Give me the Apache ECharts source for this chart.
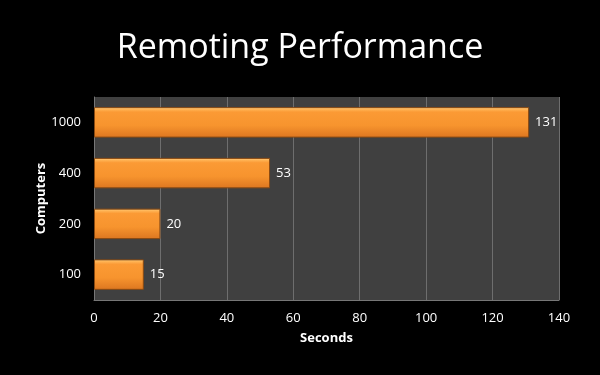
<!DOCTYPE html>
<html><head><meta charset="utf-8">
<script src="https://cdn.jsdelivr.net/npm/echarts@6/dist/echarts.min.js"></script>
<style>html,body{margin:0;padding:0;background:#000;}#c{width:600px;height:375px;}</style>
</head><body><div id="c"></div>
<script>
const categories = ['100', '200', '400', '1000'];
const seconds = [15, 20, 53, 131];
const xTicks = [0, 20, 40, 60, 80, 100, 120, 140];

const chart = echarts.init(document.getElementById('c'));
chart.setOption({
  backgroundColor: '#000',
  animation: false,
  title: {
    text: 'Remoting Performance', left: 'center', top: 26,
    textStyle: { color: '#fff', fontFamily: 'Open Sans', fontWeight: 'normal', fontSize: 34 }
  },
  grid: { left: 94, right: 41, top: 97, bottom: 75, show: true, backgroundColor: '#404040', borderWidth: 0 },
  xAxis: {
    type: 'value', min: xTicks[0], max: xTicks[xTicks.length - 1], interval: 20,
    name: 'Seconds', nameLocation: 'middle', nameGap: 32, nameMoveOverlap: false,
    nameTextStyle: { color: '#fff', fontWeight: 'bold', fontSize: 13, fontFamily: 'Open Sans' },
    axisLine: { show: true, lineStyle: { color: '#777' } },
    axisTick: { show: false },
    axisLabel: { color: '#fff', fontSize: 13, fontFamily: 'Open Sans', margin: 12 },
    splitLine: { show: true, lineStyle: { color: '#6e6e6e', width: 1 } }
  },
  yAxis: {
    type: 'category', data: categories,
    name: 'Computers', nameLocation: 'middle', nameGap: 46, nameRotate: 90, nameMoveOverlap: false,
    nameTextStyle: { color: '#fff', fontWeight: 'bold', fontSize: 13, fontFamily: 'Open Sans' },
    axisLine: { show: true, lineStyle: { color: '#777' } },
    axisTick: { show: false },
    axisLabel: { color: '#fff', fontSize: 13, fontFamily: 'Open Sans', margin: 13 },
    splitLine: { show: false }
  },
  series: [{
    type: 'bar', data: seconds, barWidth: '60%',
    itemStyle: {
      borderColor: '#8a4a12', borderWidth: 1,
      color: new echarts.graphic.LinearGradient(0, 0, 0, 1, [
        { offset: 0, color: '#ffd890' },
        { offset: 0.07, color: '#ffb455' },
        { offset: 0.16, color: '#fb9a35' },
        { offset: 0.6, color: '#f7942e' },
        { offset: 1, color: '#dc7620' }
      ])
    },
    label: { show: true, position: 'right', distance: 6, color: '#fff', fontSize: 13, fontFamily: 'Open Sans' }
  }]
});
</script></body></html>
